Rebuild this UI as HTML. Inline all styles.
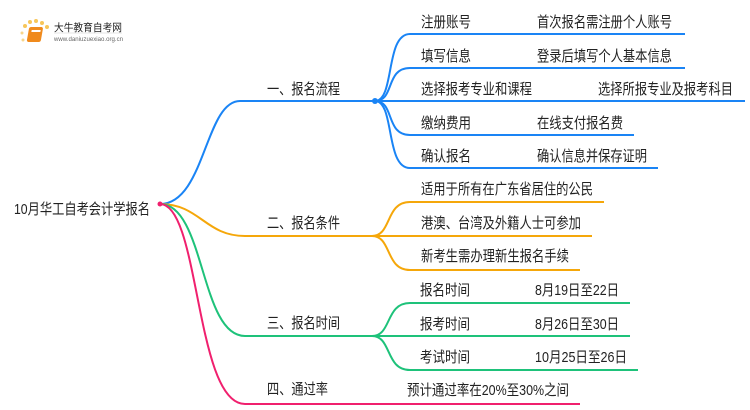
<!DOCTYPE html>
<html><head><meta charset="utf-8"><style>
html,body{margin:0;padding:0;background:#fff;width:750px;height:410px;overflow:hidden}
text{font-family:"Liberation Sans","Noto Sans CJK SC",sans-serif;font-size:15px;fill:#222}
</style></head><body>
<svg width="750" height="410" viewBox="0 0 750 410" xmlns="http://www.w3.org/2000/svg">
<g>
<circle cx="25" cy="26" r="2" fill="#f7c65a"/><circle cx="30" cy="22" r="2" fill="#f7c65a"/><circle cx="36" cy="21" r="2" fill="#f7c65a"/><circle cx="42" cy="23" r="2" fill="#f7c65a"/><circle cx="47" cy="27" r="2" fill="#f7c65a"/><circle cx="22" cy="33" r="1.5" fill="#f7d58a"/><circle cx="23" cy="40" r="1.5" fill="#f7d58a"/>
<rect x="28" y="27" width="14" height="15" rx="2" fill="#f08a1c" transform="skewX(-10) translate(6,0)"/>
<rect x="31" y="30" width="9" height="2" fill="#fff" transform="skewX(-10) translate(6,0)"/>
<text x="54" y="31" style="font-size:10.5px" textLength="68" lengthAdjust="spacingAndGlyphs">大牛教育自考网</text>
<line x1="54" y1="33" x2="122" y2="33" stroke="#ccc" stroke-width="0.5"/>
<text x="54" y="41" style="font-size:6px;fill:#666" textLength="69" lengthAdjust="spacingAndGlyphs">www.daniuzuexiao.org.cn</text>
</g>
<g fill="none" stroke-width="2">
<path d="M160 204 C205 204 205 101 240 101 L375 101" stroke="#1a84f5"/>
<path d="M375 101 C395 101 385 34 410 34 L685 34" stroke="#1a84f5"/>
<path d="M375 101 C395 101 385 68 410 68 L685 68" stroke="#1a84f5"/>
<path d="M375 101 L745 101" stroke="#1a84f5"/>
<path d="M375 101 C395 101 385 135 410 135 L634 135" stroke="#1a84f5"/>
<path d="M375 101 C395 101 385 168 410 168 L658 168" stroke="#1a84f5"/>
<path d="M160 204 C200 204 205 236 245 236 L372 236" stroke="#f5a70a"/>
<path d="M372 236 C392 236 385 202 410 202 L604 202" stroke="#f5a70a"/>
<path d="M372 236 L592 236" stroke="#f5a70a"/>
<path d="M372 236 C392 236 385 270 410 270 L580 270" stroke="#f5a70a"/>
<path d="M160 204 C205 204 200 336 245 336 L372 336" stroke="#1ec27a"/>
<path d="M372 336 C392 336 385 303 410 303 L630 303" stroke="#1ec27a"/>
<path d="M372 336 L630 336" stroke="#1ec27a"/>
<path d="M372 336 C392 336 385 370 410 370 L638 370" stroke="#1ec27a"/>
<path d="M160 204 C200 204 195 404 245 404 L580 404" stroke="#f0206e"/>
</g>
<circle cx="375" cy="101" r="3" fill="#1a84f5"/>
<circle cx="160" cy="204" r="2.5" fill="#f0206e"/>
<g lengthAdjust="spacingAndGlyphs">
<text x="14" y="214" textLength="136" lengthAdjust="spacingAndGlyphs">10月华工自考会计学报名</text>
<text x="267" y="94" textLength="73" lengthAdjust="spacingAndGlyphs">一、报名流程</text>
<text x="267" y="228" textLength="73" lengthAdjust="spacingAndGlyphs">二、报名条件</text>
<text x="267" y="328" textLength="73" lengthAdjust="spacingAndGlyphs">三、报名时间</text>
<text x="267" y="394" textLength="61" lengthAdjust="spacingAndGlyphs">四、通过率</text>
<text x="421" y="27" textLength="50" lengthAdjust="spacingAndGlyphs">注册账号</text>
<text x="537" y="27" textLength="135" lengthAdjust="spacingAndGlyphs">首次报名需注册个人账号</text>
<text x="421" y="61" textLength="50" lengthAdjust="spacingAndGlyphs">填写信息</text>
<text x="537" y="61" textLength="135" lengthAdjust="spacingAndGlyphs">登录后填写个人基本信息</text>
<text x="421" y="94" textLength="111" lengthAdjust="spacingAndGlyphs">选择报考专业和课程</text>
<text x="598" y="94" textLength="135" lengthAdjust="spacingAndGlyphs">选择所报专业及报考科目</text>
<text x="421" y="128" textLength="50" lengthAdjust="spacingAndGlyphs">缴纳费用</text>
<text x="537" y="128" textLength="86" lengthAdjust="spacingAndGlyphs">在线支付报名费</text>
<text x="421" y="161" textLength="50" lengthAdjust="spacingAndGlyphs">确认报名</text>
<text x="537" y="161" textLength="110" lengthAdjust="spacingAndGlyphs">确认信息并保存证明</text>
<text x="421" y="194" textLength="172" lengthAdjust="spacingAndGlyphs">适用于所有在广东省居住的公民</text>
<text x="421" y="228" textLength="160" lengthAdjust="spacingAndGlyphs">港澳、台湾及外籍人士可参加</text>
<text x="421" y="261" textLength="148" lengthAdjust="spacingAndGlyphs">新考生需办理新生报名手续</text>
<text x="420" y="295" textLength="50" lengthAdjust="spacingAndGlyphs">报名时间</text>
<text x="535" y="295" textLength="84" lengthAdjust="spacingAndGlyphs">8月19日至22日</text>
<text x="420" y="329" textLength="50" lengthAdjust="spacingAndGlyphs">报考时间</text>
<text x="535" y="329" textLength="84" lengthAdjust="spacingAndGlyphs">8月26日至30日</text>
<text x="420" y="362" textLength="50" lengthAdjust="spacingAndGlyphs">考试时间</text>
<text x="535" y="362" textLength="92" lengthAdjust="spacingAndGlyphs">10月25日至26日</text>
<text x="407" y="395" textLength="162" lengthAdjust="spacingAndGlyphs">预计通过率在20%至30%之间</text>
</g>
</svg>
</body></html>
